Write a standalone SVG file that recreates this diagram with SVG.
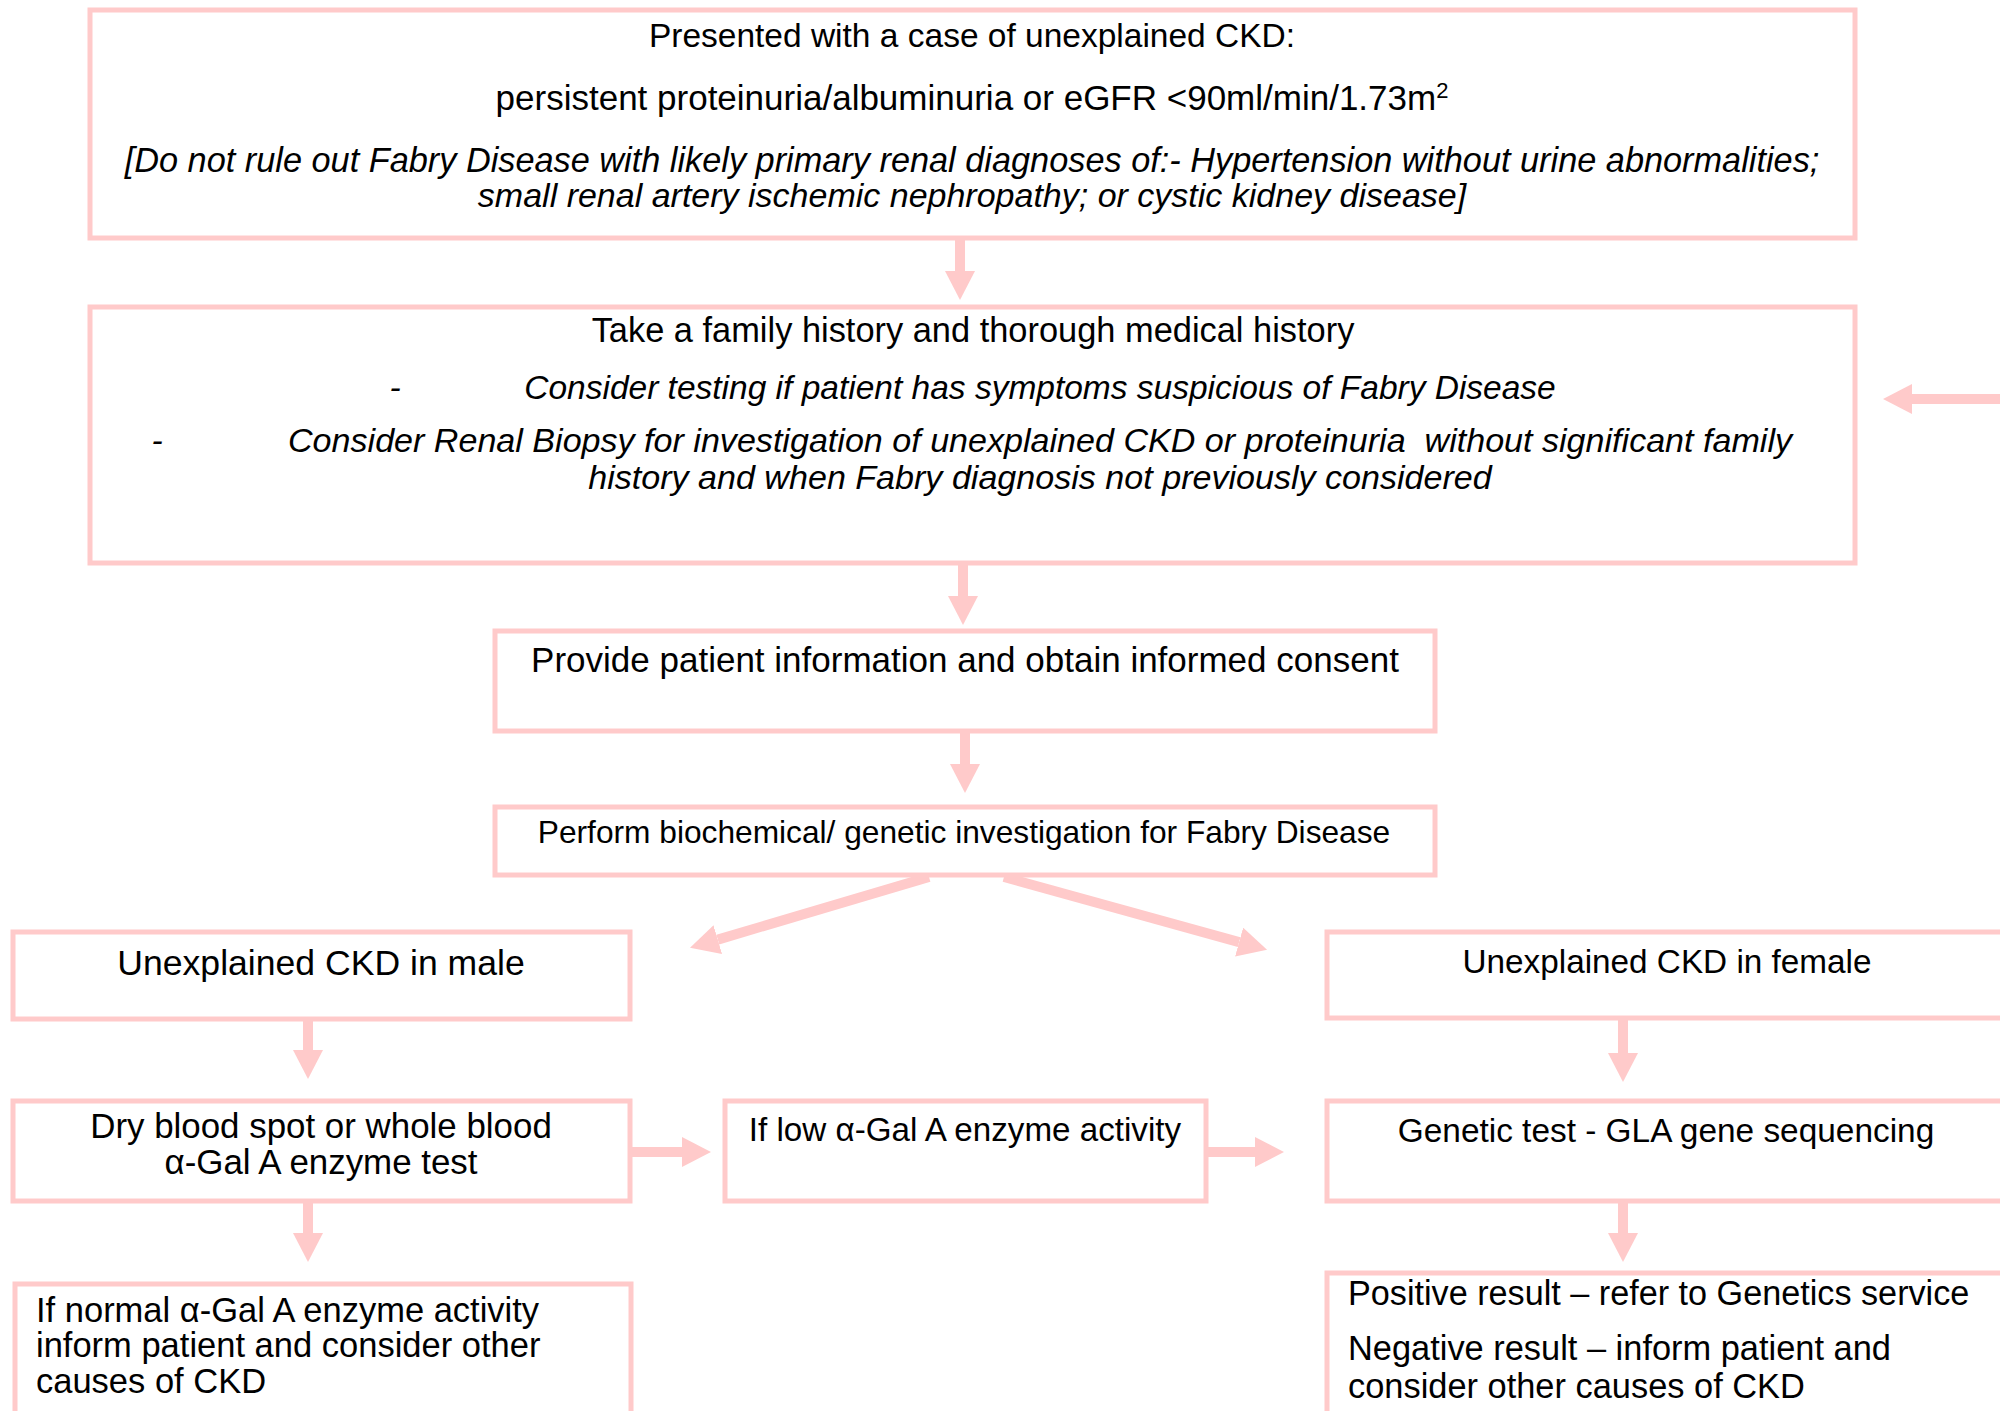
<svg xmlns="http://www.w3.org/2000/svg" width="2000" height="1411" viewBox="0 0 2000 1411">
<style>
.box{fill:#ffffff;stroke:#ffcaca;stroke-width:5}
.t{font-family:"Liberation Sans",Arial,sans-serif;fill:#000}
.m{text-anchor:middle}
.i{font-style:italic}
.c{stroke:#ffcaca;stroke-width:10;fill:none;marker-end:url(#ah)}
</style>
<defs>
<marker id="ah" markerUnits="userSpaceOnUse" markerWidth="29" markerHeight="30" refX="0" refY="15" orient="auto" viewBox="0 0 29 30">
<path d="M0,0 L29,15 L0,30 z" fill="#ffcaca"/>
</marker>
</defs>
<rect width="2000" height="1411" fill="#ffffff"/>
<g id="connectors">
<line class="c" x1="960" y1="240" x2="960" y2="271"/>
<line class="c" x1="963" y1="565" x2="963" y2="596"/>
<line class="c" x1="965" y1="733" x2="965" y2="764"/>
<line class="c" x1="929" y1="877" x2="717.8" y2="939.6"/>
<line class="c" x1="1004" y1="877" x2="1239.1" y2="942.1"/>
<line class="c" x1="308" y1="1021" x2="308" y2="1050"/>
<line class="c" x1="308" y1="1203" x2="308" y2="1233"/>
<line class="c" x1="1623" y1="1020" x2="1623" y2="1053"/>
<line class="c" x1="1623" y1="1203" x2="1623" y2="1233"/>
<line class="c" x1="632" y1="1152" x2="682" y2="1152"/>
<line class="c" x1="1208" y1="1152" x2="1255" y2="1152"/>
<line class="c" x1="2005" y1="399" x2="1912" y2="399"/>
</g>
<g id="n1">
<rect class="box" x="90" y="10" width="1765" height="228"/>
<text class="t m" x="972" y="47" font-size="33.5">Presented with a case of unexplained CKD:</text>
<text class="t m" x="972" y="110" font-size="35">persistent proteinuria/albuminuria or eGFR &lt;90ml/min/1.73m<tspan font-size="22" dy="-12">2</tspan></text>
<text class="t m i" x="972" y="172" font-size="34.3">[Do not rule out Fabry Disease with likely primary renal diagnoses of:- Hypertension without urine abnormalities;</text>
<text class="t m i" x="972" y="207" font-size="34">small renal artery ischemic nephropathy; or cystic kidney disease]</text>
</g>
<g id="n2">
<rect class="box" x="90" y="307" width="1765" height="256"/>
<text class="t m" x="973" y="342" font-size="34.4">Take a family history and thorough medical history</text>
<text class="t m i" x="395" y="399" font-size="33.5">-</text>
<text class="t m i" x="1040" y="399" font-size="33.5">Consider testing if patient has symptoms suspicious of Fabry Disease</text>
<text class="t m i" x="157" y="452" font-size="33.5">-</text>
<text class="t m i" x="1040" y="452" font-size="34.1">Consider Renal Biopsy for investigation of unexplained CKD or proteinuria&#160; without significant family</text>
<text class="t m i" x="1040" y="489" font-size="34.1">history and when Fabry diagnosis not previously considered</text>
</g>
<g id="n3">
<rect class="box" x="495" y="631" width="940" height="100"/>
<text class="t m" x="965" y="672" font-size="35">Provide patient information and obtain informed consent</text>
</g>
<g id="n4">
<rect class="box" x="495" y="807" width="940" height="68"/>
<text class="t m" x="964" y="843" font-size="31.7">Perform biochemical/ genetic investigation for Fabry Disease</text>
</g>
<g id="n5">
<rect class="box" x="13" y="932" width="617" height="87"/>
<text class="t m" x="321" y="975" font-size="35.6">Unexplained CKD in male</text>
</g>
<g id="n6">
<rect class="box" x="13" y="1101" width="617" height="100"/>
<text class="t m" x="321" y="1138" font-size="34.9">Dry blood spot or whole blood</text>
<text class="t m" x="321" y="1174" font-size="34.9">α-Gal A enzyme test</text>
</g>
<g id="n7">
<rect class="box" x="725" y="1101" width="481" height="100"/>
<text class="t m" x="965" y="1141" font-size="33.2">If low α-Gal A enzyme activity</text>
</g>
<g id="n8">
<rect class="box" x="1327" y="932" width="700" height="86"/>
<text class="t m" x="1667" y="973" font-size="33.3">Unexplained CKD in female</text>
</g>
<g id="n9">
<rect class="box" x="1327" y="1101" width="700" height="100"/>
<text class="t m" x="1666" y="1142" font-size="33.4">Genetic test - GLA gene sequencing</text>
</g>
<g id="n10">
<rect class="box" x="1327" y="1273" width="700" height="200"/>
<text class="t" x="1348" y="1305" font-size="34.2">Positive result – refer to Genetics service</text>
<text class="t" x="1348" y="1360" font-size="34.4">Negative result – inform patient and</text>
<text class="t" x="1348" y="1398" font-size="34.4">consider other causes of CKD</text>
</g>
<g id="n11">
<rect class="box" x="15" y="1284" width="616" height="200"/>
<text class="t" x="36" y="1322" font-size="34.5">If normal α-Gal A enzyme activity</text>
<text class="t" x="36" y="1357" font-size="34.5">inform patient and consider other</text>
<text class="t" x="36" y="1393" font-size="34.5">causes of CKD</text>
</g>
</svg>
